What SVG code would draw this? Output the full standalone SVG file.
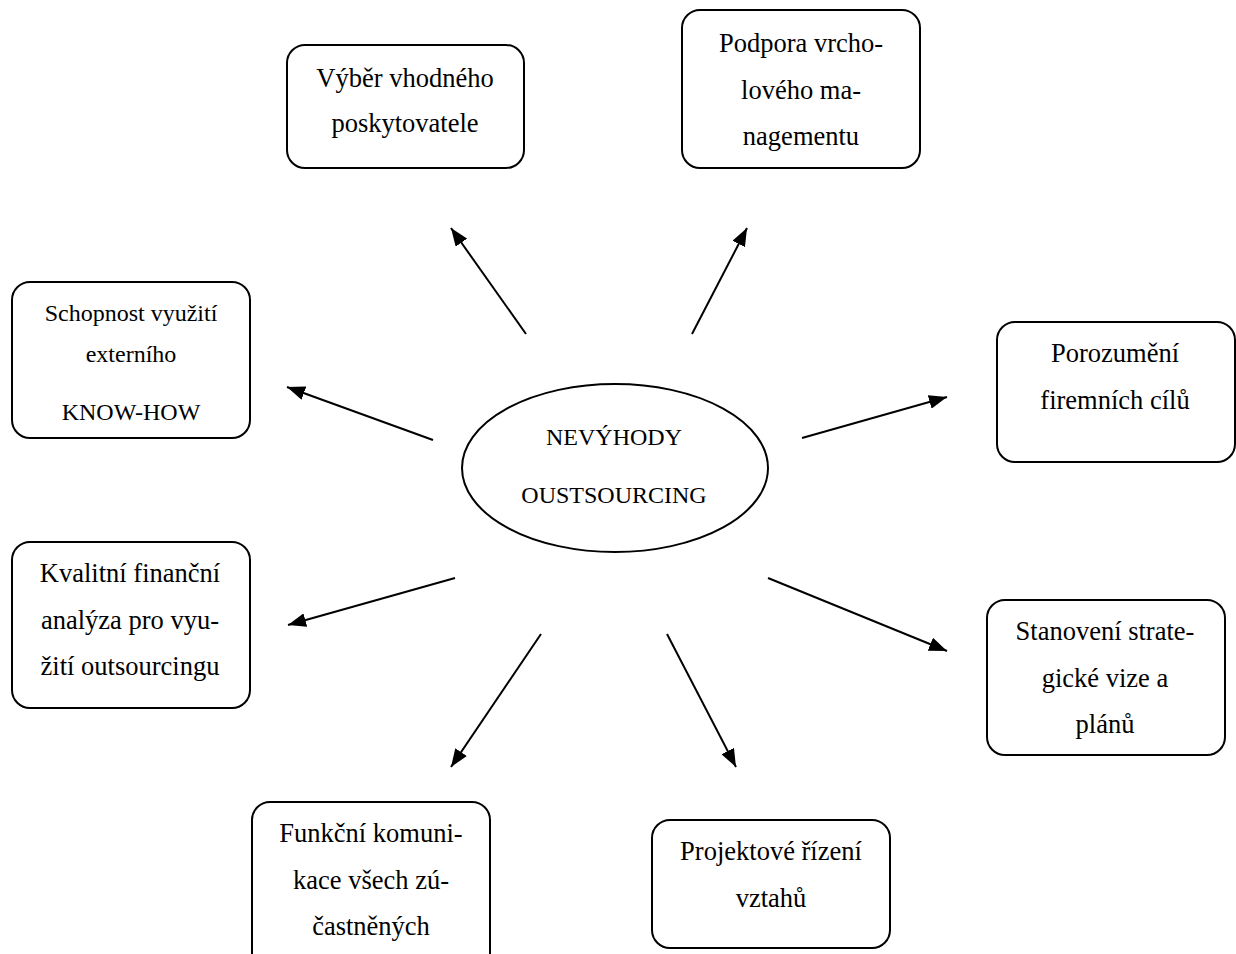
<svg xmlns="http://www.w3.org/2000/svg" width="1236" height="954" viewBox="0 0 1236 954">
<defs>
<marker id="ah" markerUnits="userSpaceOnUse" markerWidth="18" markerHeight="14" refX="18" refY="7" orient="auto">
<path d="M0,0 L18,7 L0,14 z" fill="#000"/>
</marker>
<style>
.box{fill:#fff;stroke:#000;stroke-width:2}
.t{font-family:"Liberation Serif","Times New Roman",serif;font-size:26.5px;fill:#000;text-anchor:middle}
.s{font-size:24px}
.c line{stroke:#000;stroke-width:2;marker-end:url(#ah)}
</style>
</defs>
<rect width="1236" height="954" fill="#fff"/>
<g id="center">
<ellipse cx="615" cy="468" rx="153" ry="84" class="box"/>
<text class="t s" x="614" y="445">NEVÝHODY</text>
<text class="t s" x="614" y="503">OUSTSOURCING</text>
</g>
<g id="n1">
<rect x="287" y="45" width="237" height="123" rx="18" class="box"/>
<text class="t" x="405" y="87">Výběr vhodného</text>
<text class="t" x="405" y="132">poskytovatele</text>
</g>
<g id="n2">
<rect x="682" y="10" width="238" height="158" rx="18" class="box"/>
<text class="t" x="801" y="52">Podpora vrcho-</text>
<text class="t" x="801" y="99">lového ma-</text>
<text class="t" x="801" y="145">nagementu</text>
</g>
<g id="n3">
<rect x="12" y="282" width="238" height="156" rx="18" class="box"/>
<text class="t s" x="131" y="321">Schopnost využití</text>
<text class="t s" x="131" y="362">externího</text>
<text class="t s" x="131" y="420">KNOW-HOW</text>
</g>
<g id="n4">
<rect x="997" y="322" width="238" height="140" rx="18" class="box"/>
<text class="t" x="1115" y="362">Porozumění</text>
<text class="t" x="1115" y="409">firemních cílů</text>
</g>
<g id="n5">
<rect x="12" y="542" width="238" height="166" rx="18" class="box"/>
<text class="t" x="130" y="582">Kvalitní finanční</text>
<text class="t" x="130" y="629">analýza pro vyu-</text>
<text class="t" x="130" y="675">žití outsourcingu</text>
</g>
<g id="n6">
<rect x="987" y="600" width="238" height="155" rx="18" class="box"/>
<text class="t" x="1105" y="640">Stanovení strate-</text>
<text class="t" x="1105" y="687">gické vize a</text>
<text class="t" x="1105" y="733">plánů</text>
</g>
<g id="n7">
<rect x="652" y="820" width="238" height="128" rx="18" class="box"/>
<text class="t" x="771" y="860">Projektové řízení</text>
<text class="t" x="771" y="907">vztahů</text>
</g>
<g id="n8">
<rect x="252" y="802" width="238" height="170" rx="18" class="box"/>
<text class="t" x="371" y="842">Funkční komuni-</text>
<text class="t" x="371" y="889">kace všech zú-</text>
<text class="t" x="371" y="935">častněných</text>
</g>
<g id="connectors" class="c">
<line x1="526" y1="334" x2="451" y2="228"/>
<line x1="692" y1="334" x2="747" y2="228"/>
<line x1="433" y1="440" x2="287" y2="387"/>
<line x1="802" y1="438" x2="947" y2="397"/>
<line x1="455" y1="578" x2="288" y2="625"/>
<line x1="768" y1="578" x2="947" y2="651"/>
<line x1="541" y1="634" x2="451" y2="767"/>
<line x1="667" y1="634" x2="736" y2="767"/>
</g>
</svg>
